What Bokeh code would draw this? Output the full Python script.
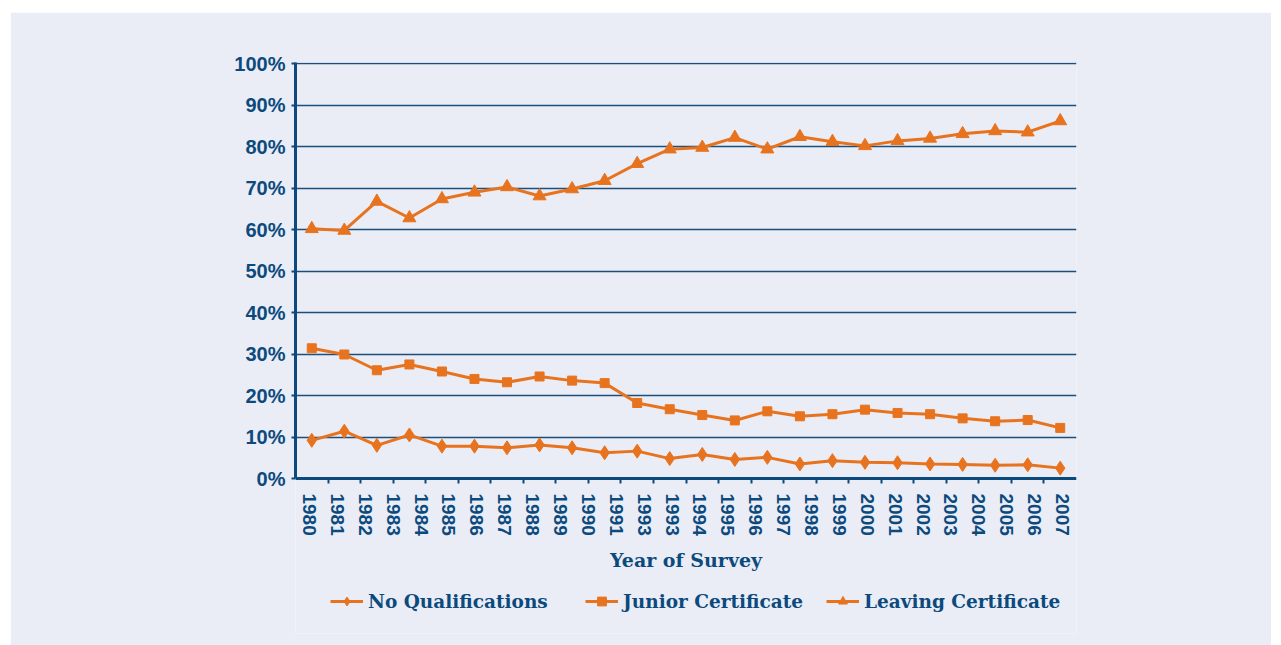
from bokeh.plotting import figure
from bokeh.models import (Range1d, FixedTicker, PrintfTickFormatter, CustomJSTickFormatter,
                          Legend, LegendItem)
from bokeh.embed import file_html
from bokeh.resources import INLINE
import math

# ---------------- data ----------------
year_labels = ["1980", "1981", "1982", "1983", "1984", "1985", "1986", "1987", "1988",
               "1989", "1990", "1991", "1993", "1993", "1994", "1995", "1996", "1997",
               "1998", "1999", "2000", "2001", "2002", "2003", "2004", "2005", "2006", "2007"]

series_names = ["No Qualifications", "Junior Certificate", "Leaving Certificate"]
no_qualifications = [9.2, 11.4, 8.0, 10.5, 7.8, 7.8, 7.4, 8.1, 7.4, 6.2, 6.6, 4.8,
                     5.8, 4.6, 5.1, 3.5, 4.3, 3.9, 3.8, 3.5, 3.4, 3.2, 3.3, 2.5]
junior_certificate = [31.4, 29.9, 26.1, 27.5, 25.8, 24.0, 23.2, 24.6, 23.6, 23.0, 18.2, 16.7,
                      15.3, 14.0, 16.2, 15.0, 15.5, 16.6, 15.8, 15.5, 14.5, 13.8, 14.1, 12.2]
leaving_certificate = [60.2, 59.8, 66.8, 62.8, 67.4, 69.0, 70.3, 68.1, 69.8, 71.8, 75.9, 79.4,
                       79.8, 82.2, 79.4, 82.4, 81.2, 80.2, 81.4, 82.0, 83.1, 83.8, 83.5, 86.2]
y_ticks = [0, 10, 20, 30, 40, 50, 60, 70, 80, 90, 100]

# ---------------- styling ----------------
BG = "#EAEDF5"
NAVY = "#0C4A7E"
GRID = "#1C4F7E"
ORANGE = "#E8731F"

n_slots = len(no_qualifications)
xs = [i + 0.5 for i in range(n_slots)]
label_pos = [(j + 0.5) * n_slots / len(year_labels) for j in range(len(year_labels))]

# layout geometry (page pixels)
OFF_X, OFF_Y = 10, 12
FRAME_L, FRAME_R, FRAME_T, ZERO_Y, FRAME_B = 295, 1076, 62, 478, 633
Y_TOP = 100.3
px_per = (ZERO_Y - FRAME_T) / Y_TOP
Y_BOTTOM = -(FRAME_B - ZERO_Y) / px_per

W, H = 1271 - OFF_X, 645 - OFF_Y
p = figure(width=W, height=H, output_backend="svg", toolbar_location=None,
           x_range=Range1d(0, n_slots), y_range=Range1d(Y_BOTTOM, Y_TOP),
           min_border_left=FRAME_L - OFF_X, min_border_right=1271 - FRAME_R,
           min_border_top=FRAME_T - OFF_Y, min_border_bottom=645 - FRAME_B)
p.margin = (OFF_Y, 0, 0, OFF_X)
p.background_fill_color = BG
p.border_fill_color = BG
p.outline_line_color = None

# x axis fixed at 0 inside the frame
p.xaxis.fixed_location = 0
p.xaxis.ticker = FixedTicker(ticks=label_pos, minor_ticks=list(range(1, n_slots)))
p.xaxis.formatter = CustomJSTickFormatter(args=dict(labels=year_labels),
                                          code="return labels[index];")
p.xaxis.major_label_orientation = -math.pi / 2
p.xaxis.major_tick_out = 0
p.xaxis.major_tick_in = 0
p.xaxis.minor_tick_out = 5
p.xaxis.minor_tick_in = 0
p.xaxis.minor_tick_line_color = NAVY
p.xaxis.minor_tick_line_width = 2
p.xaxis.axis_line_color = NAVY
p.xaxis.axis_line_width = 3
p.xaxis.major_label_text_font = "Liberation Sans"
p.xaxis.major_label_text_font_style = "bold"
p.xaxis.major_label_text_font_size = "19px"
p.xaxis.major_label_text_color = NAVY
p.xaxis.major_label_standoff = 10
p.xaxis.axis_label = "Year of Survey"
p.xaxis.axis_label_text_font = "DejaVu Serif"
p.xaxis.axis_label_text_font_style = "bold"
p.xaxis.axis_label_text_font_size = "19px"
p.xaxis.axis_label_text_color = NAVY
p.xaxis.axis_label_standoff = 10

p.yaxis.bounds = (0, Y_TOP)
p.yaxis.ticker = FixedTicker(ticks=y_ticks)
p.yaxis.formatter = PrintfTickFormatter(format="%d%%")
p.yaxis.major_tick_out = 4
p.yaxis.major_tick_in = 0
p.yaxis.major_tick_line_color = NAVY
p.yaxis.major_tick_line_width = 2
p.yaxis.minor_tick_line_color = None
p.yaxis.axis_line_color = NAVY
p.yaxis.axis_line_width = 3
p.yaxis.major_label_text_font = "Liberation Sans"
p.yaxis.major_label_text_font_style = "bold"
p.yaxis.major_label_text_font_size = "20px"
p.yaxis.major_label_text_color = NAVY
p.yaxis.major_label_standoff = 6

p.xgrid.grid_line_color = None
p.ygrid.ticker = FixedTicker(ticks=y_ticks[1:])
p.ygrid.grid_line_color = GRID
p.ygrid.grid_line_width = 1.6

# series
markers = [("diamond", 14), ("square", 9), ("triangle", 13)]
renderers = []
for vals, (mk, sz) in zip([no_qualifications, junior_certificate, leaving_certificate], markers):
    rl = p.line(xs, vals, line_color=ORANGE, line_width=3)
    rs = p.scatter(xs, vals, marker=mk, size=sz, fill_color=ORANGE, line_color=ORANGE)
    renderers.append((rl, rs))

# legend: one entry per series, placed along the bottom
legend_x = [330 - FRAME_L, 585 - FRAME_L, 826 - FRAME_L]
legend_top = FRAME_B - 612
for name, (rl, rs), lx in zip(series_names, renderers, legend_x):
    lg = Legend(items=[LegendItem(label=name, renderers=[rl, rs])], location=(lx, legend_top))
    lg.background_fill_color = None
    lg.border_line_color = None
    lg.padding = 0
    lg.margin = 0
    lg.glyph_width = 33
    lg.glyph_height = 22
    lg.label_standoff = 5
    lg.label_text_font = "DejaVu Serif"
    lg.label_text_font_style = "bold"
    lg.label_text_font_size = "18.5px"
    lg.label_text_color = NAVY
    p.add_layout(lg, "center")

open("out.html", "w").write(file_html(p, INLINE))
